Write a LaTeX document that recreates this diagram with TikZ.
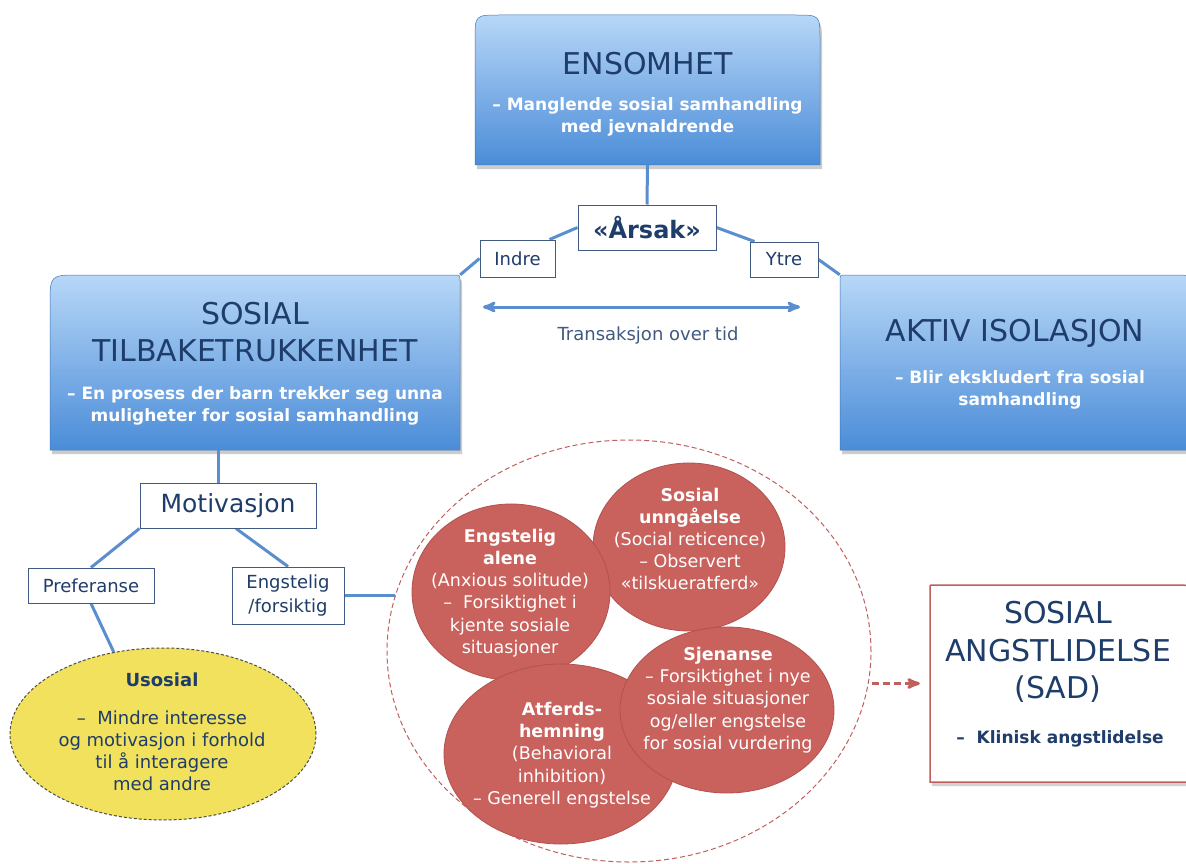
\documentclass[tikz,border=0pt]{standalone}
\usepackage{fontspec}
\setmainfont{DejaVu Sans}
\usetikzlibrary{arrows}
\usetikzlibrary{shapes.geometric}
\usetikzlibrary{shadows}
\definecolor{navy}{HTML}{1F3D6B}
\definecolor{linkblue}{HTML}{5B8ECF}
\definecolor{boxtop}{HTML}{B7D7F7}
\definecolor{boxbot}{HTML}{4B8CD8}
\definecolor{blob}{HTML}{C9615D}
\definecolor{blobedge}{HTML}{B3514E}
\definecolor{sadred}{HTML}{C0605C}
\definecolor{usoyellow}{HTML}{F1E15C}
\pgfdeclarelayer{back}
\pgfdeclarelayer{mid}
\pgfsetlayers{back,mid,main}
% box with square bottom, rounded top corners: x1,y1,x2,y2,r-left,r-right
\def\topbox#1#2#3#4#5#6{(#1,#4) -- (#1,#2+#5) .. controls (#1,#2) .. (#1+#5,#2)
  -- (#3-#6,#2) .. controls (#3,#2) .. (#3,#2+#6) -- (#3,#4) -- cycle}

\begin{document}
\begin{tikzpicture}[x=1pt,y=-1pt,>=stealth',
  link/.style={draw=linkblue,line width=3pt},
  redarrow/.style={draw=sadred,line width=3pt,dash pattern=on 7pt off 4pt,->},
  boxshade/.style={top color=boxtop,bottom color=boxbot,draw=boxbot!85!black,line width=.5pt,
    drop shadow={shadow xshift=2pt,shadow yshift=-4pt,opacity=.4}},
  tag/.style={draw=navy!85,line width=1pt,fill=white,text=navy,inner sep=0pt,align=center,
    font=\fontsize{18}{24}\selectfont},
  hold/.style={inner sep=0pt},
  title/.style={text=navy,align=center,font=\fontsize{30}{37.5}\selectfont},
  sub/.style={text=white,align=center,font=\bfseries\fontsize{17}{22.5}\selectfont},
  blob/.style={ellipse,fill=blob,draw=blobedge,line width=.8pt,inner sep=0pt},
  blobtext/.style={text=white,align=center,font=\fontsize{17.5}{22.2}\selectfont}]

\useasboundingbox (0,0) rectangle (1186,864);

\begin{pgfonlayer}{back}
\fill[white] (0,0) rectangle (1186,864);
% blue boxes
\shade[boxshade] \topbox{475}{15}{820}{165}{25}{25};
\shade[boxshade] \topbox{50}{275}{460}{450}{30}{6};
\shade[boxshade] \topbox{840}{275}{1200}{450}{6}{30};
\filldraw[fill=white,draw=sadred,line width=1.5pt,
  drop shadow={shadow xshift=2pt,shadow yshift=-4pt,opacity=.35}] \topbox{930}{585}{1200}{782}{1}{30};
\end{pgfonlayer}

\node[hold,minimum width=345pt,minimum height=150pt] (ensomhet) at (647.5,90) {};
\node[hold,minimum width=410pt,minimum height=175pt] (tilbake) at (255,362.5) {};
\node[hold,minimum width=346pt,minimum height=175pt] (aktiv) at (1013,362.5) {};
\node[hold,minimum width=256pt,minimum height=197pt] (sad) at (1058,683.5) {};

\node[title] (ensomhetT) at (647.5,64) {ENSOMHET};
\node[sub] (ensomhetS) at (647.5,117) {– Manglende sosial samhandling\\med jevnaldrende};
\node[title] (tilbakeT) at (255,332) {SOSIAL\\TILBAKETRUKKENHET};
\node[sub] (tilbakeS) at (255,406) {– En prosess der barn trekker seg unna\\muligheter for sosial samhandling};
\node[title] (aktivT) at (1015,333) {AKTIV ISOLASJON};
\node[sub] (aktivS) at (1020,390) {– Blir ekskludert fra sosial\\samhandling};
\node[title] (sadT) at (1058,652) {SOSIAL\\ANGSTLIDELSE\\(SAD)};
\node[sub,text=navy] (sadS) at (1060,739) {–\ \ Klinisk angstlidelse};

% dashed group and yellow ellipse
\node[ellipse,draw=sadred,dash pattern=on 5pt off 3pt,line width=1pt,minimum width=484pt,
  minimum height=422pt,inner sep=0pt] (cluster) at (629,651) {};
\node[ellipse,fill=usoyellow,draw=gray!60!black,dash pattern=on 3pt off 2pt,line width=1pt,
  minimum width=306pt,minimum height=172pt,inner sep=0pt] (usosial) at (163,734) {};

% label boxes
\node[tag,font=\bfseries\fontsize{24}{28}\selectfont,minimum width=138pt,minimum height=45pt] (arsak) at (647,227.5) {«Årsak»};
\node[tag,minimum width=75pt,minimum height=37pt] (indre) at (517.5,258.5) {Indre};
\node[tag,minimum width=68pt,minimum height=35pt] (ytre) at (784,259.5) {Ytre};
\node[tag,font=\fontsize{25}{30}\selectfont,minimum width=176pt,minimum height=45pt] (motivasjon) at (228,505.5) {Motivasjon};
\node[tag,minimum width=126pt,minimum height=35pt] (preferanse) at (91,585.5) {Preferanse};
\node[tag,minimum width=112pt,minimum height=57pt] (engstelig) at (288,595.5) {Engstelig\\/forsiktig};

% connectors
\begin{pgfonlayer}{mid}
\coordinate (motivUp) at ([xshift=-10pt]motivasjon.north);
\draw[link] (ensomhet.south) -- (arsak.north);
\draw[link] (arsak.west) -- ([xshift=-6pt]indre.north east);
\draw[link] (indre.west) -- (tilbake.north east);
\draw[link] (arsak.east) -- ([xshift=5pt]ytre.north west);
\draw[link] (ytre.east) -- (aktiv.north west);
\draw[link] (motivUp) -- (motivUp |- tilbake.south);
\draw[link] (motivasjon.south west) -- (preferanse.north);
\draw[link] ([xshift=8pt]motivasjon.south) -- (engstelig.north);
\draw[link] (engstelig.east) -- (engstelig.east -| cluster.167);
\draw[link] (preferanse.south) -- (usosial.121);
\end{pgfonlayer}

\coordinate (tidA) at (483,307);
\coordinate (tidB) at (800,307);
\draw[link,<->] (tidA) -- (tidB);
\node[text=navy!85,font=\fontsize{18}{22}\selectfont] (tid) at (648,336) {Transaksjon over tid};

\draw[redarrow] (sad.west -| cluster.east) -- ([xshift=-10pt]sad.west);

\node[text=navy,align=center,font=\fontsize{18}{22}\selectfont] (usosialT) at (162,732)
  {\textbf{Usosial}\\[16pt]–\ \ Mindre interesse\\og motivasjon i forhold\\til å interagere\\med andre};

% red circles
\node[blob,minimum width=192pt,minimum height=168pt] (unngaelse) at (689,547) {};
\node[blob,minimum width=198pt,minimum height=176pt] (alene) at (511,592) {};
\node[blob,minimum width=234pt,minimum height=180pt] (atferd) at (561,754) {};
\node[blob,minimum width=214pt,minimum height=166pt] (sjenanse) at (727,710) {};

\node[blobtext] (aleneT) at (510,593) {\textbf{Engstelig}\\\textbf{alene}\\(Anxious solitude)\\–\ \ Forsiktighet i\\kjente sosiale\\situasjoner};
\node[blobtext] (unngaelseT) at (690,539) {\textbf{Sosial}\\\textbf{unngåelse}\\(Social reticence)\\– Observert\\«tilskueratferd»};
\node[blobtext] (atferdT) at (562,755) {\textbf{Atferds-}\\\textbf{hemning}\\(Behavioral\\inhibition)\\– Generell engstelse};
\node[blobtext] (sjenanseT) at (728,700) {\textbf{Sjenanse}\\– Forsiktighet i nye\\sosiale situasjoner\\og/eller engstelse\\for sosial vurdering};

\end{tikzpicture}
\end{document}
